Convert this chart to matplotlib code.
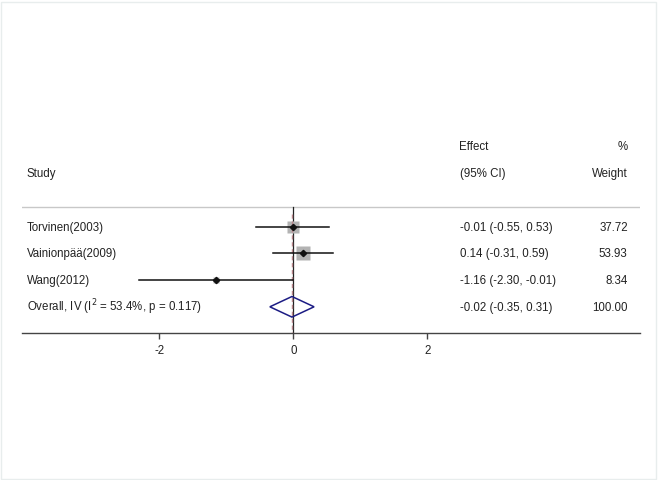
import numpy as np
import matplotlib.pyplot as plt
from matplotlib.patches import Polygon, Rectangle

plt.rcParams['font.family'] = ['Liberation Sans', 'DejaVu Sans']

# Study data
studies = ['Torvinen(2003)', 'Vainionpää(2009)', 'Wang(2012)']
effect = [-0.01, 0.14, -1.16]
lower = [-0.55, -0.31, -2.30]
upper = [0.53, 0.59, -0.01]
weight = [37.72, 53.93, 8.34]

# Pooled estimate
overall_label = 'Overall, IV (I$^{2}$ = 53.4%, p = 0.117)'
overall = [-0.02, -0.35, 0.31]
overall_weight = 100.00

xticks = [-2, 0, 2]

# Figure layout (pixels -> figure fraction)
W, H = 658, 480
fig = plt.figure(figsize=[W / 100, H / 100], dpi=100)
fig.patches.append(Rectangle((1 / W, 1 / H), (W - 3) / W, (H - 3) / H, transform=fig.transFigure,
                             fill=False, edgecolor='#e8eded', lw=1))

px_left, px_right = 22, 640
px_bottom, px_top = 333, 133
ax = fig.add_axes([px_left / W, 1 - px_bottom / H, (px_right - px_left) / W, (px_bottom - px_top) / H])

# x: 0 at 293.3 px, 67 px per unit ; y: rows 26.7 px apart
x0, scale = 293.3, 67.0
ax.set_xlim((px_left - x0) / scale, (px_right - x0) / scale)
row0, rstep = 226.7, 26.7
ax.set_ylim((px_bottom - row0) / rstep, (px_top - row0) / rstep)

fs = 8.3
tc = '#222222'

for s in ['top', 'left', 'right']:
    ax.spines[s].set_visible(False)
ax.spines['bottom'].set_color('#444444')
ax.spines['bottom'].set_linewidth(1.0)
ax.set_yticks([])
ax.set_xticks(xticks)
ax.set_xticklabels([str(t) for t in xticks])
ax.tick_params(axis='x', length=4, width=1, color='#444444', labelsize=fs, labelcolor=tc, pad=5)

ybot = ax.get_ylim()[0]
hdr = (207 - row0) / rstep

# header separator
ax.axhline(hdr, color='#c8c8c8', lw=1)
# null line and overall effect line
ax.plot([0, 0], [hdr, ybot], color='#222222', lw=0.9, zorder=2)
ax.plot([overall[0], overall[0]], [-0.47, ybot], color='#b8868c', lw=1.0, ls=(0, (3, 2)), zorder=3)

rows = np.arange(len(studies))
for i in rows:
    ax.plot(effect[i], i, marker='s', ms=1.375 * np.sqrt(weight[i]), color='#b3b3b3', mec='none', zorder=2)
    ax.plot([lower[i], upper[i]], [i, i], color='#111111', lw=1.1, zorder=4)
    ax.plot(effect[i], i, marker='D', ms=3.2, color='#111111', zorder=5)

yo = len(studies)
dh = 10.3 / rstep
diamond = Polygon([[overall[1], yo], [overall[0], yo - dh], [overall[2], yo], [overall[0], yo + dh]],
                  closed=True, fill=False, edgecolor='#1c1c84', lw=1.1, zorder=4)
ax.add_patch(diamond)

# text columns
xs = (26.7 - x0) / scale
xe = (459.5 - x0) / scale
xw = (627.7 - x0) / scale
dy = 0.03
ax.text(xs, -2.0 + dy, 'Study', fontsize=fs, color=tc, va='center', ha='left')
ax.text(xe, -3.02 + dy, 'Effect', fontsize=fs, color=tc, va='center', ha='left')
ax.text(xe, -2.0 + dy, '(95% CI)', fontsize=fs, color=tc, va='center', ha='left')
ax.text(xw, -3.02 + dy, '%', fontsize=fs, color=tc, va='center', ha='right')
ax.text(xw, -2.0 + dy, 'Weight', fontsize=fs, color=tc, va='center', ha='right')

for i in rows:
    ax.text(xs, i + dy, studies[i], fontsize=fs, color=tc, va='center', ha='left')
    ax.text(xe, i + dy, '%.2f (%.2f, %.2f)' % (effect[i], lower[i], upper[i]), fontsize=fs, color=tc,
            va='center', ha='left')
    ax.text(xw, i + dy, '%.2f' % weight[i], fontsize=fs, color=tc, va='center', ha='right')

ax.text(xs, yo + dy, overall_label, fontsize=fs, color=tc, va='center', ha='left')
ax.text(xe, yo + dy, '%.2f (%.2f, %.2f)' % tuple(overall), fontsize=fs, color=tc, va='center', ha='left')
ax.text(xw, yo + dy, '%.2f' % overall_weight, fontsize=fs, color=tc, va='center', ha='right')

fig.savefig('out.png', dpi=100)
